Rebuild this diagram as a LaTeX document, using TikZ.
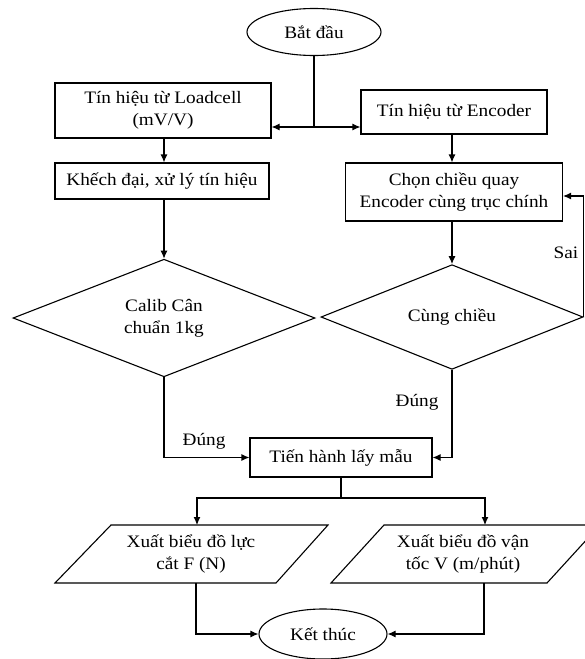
\documentclass[tikz,border=0pt]{standalone}
\usepackage{fontspec}
\setmainfont{Liberation Serif}[FakeStretch=1.1]
\usetikzlibrary{shapes.geometric,arrows.meta}
\begin{document}
\begin{tikzpicture}[x=1pt,y=-1pt,
  every node/.style={font=\fontsize{17.5}{22}\selectfont, align=center, inner sep=0pt},
  box/.style={draw, line width=1.1pt},
  term/.style={draw, ellipse, line width=1.1pt},
  dec/.style={draw, diamond, line width=1.1pt},
  conn/.style={line width=1.1pt},
  arr/.style={conn, -{Latex[length=8pt,width=7pt]}},
  lbl/.style={}
]
\useasboundingbox (0,0) rectangle (584,659);
% nodes
\node[term, minimum width=134pt, minimum height=47pt] (start) at (314,32) {Bắt đầu};
\node[box, minimum width=216pt, minimum height=55pt] (load) at (163,110.5) {Tín hiệu từ Loadcell\\(mV/V)};
\node[box, minimum width=186pt, minimum height=44pt] (enc) at (454,112) {Tín hiệu từ Encoder};
\node[box, minimum width=214pt, minimum height=36pt] (khech) at (162,181) {Khếch đại, xử lý tín hiệu};
\node[box, minimum width=217pt, minimum height=58pt] (chon) at (454,192) {Chọn chiều quay\\Encoder cùng trục chính};
\node[dec, minimum width=302pt, minimum height=105pt] (calib) at (164,318) {Calib Cân\\chuẩn 1kg};
\node[dec, minimum width=262pt, minimum height=87pt] (same) at (452,317) {Cùng chiều};
\node[box, minimum width=182pt, minimum height=39pt] (tien) at (341,457.5) {Tiến hành lấy mẫu};
\node (outF) at (191,554) {Xuất biểu đồ lực\\cắt F (N)};
\node (outV) at (463,554) {Xuất biểu đồ vận\\tốc V (m/phút)};
\draw[line width=1.1pt] (55,583) -- (111,525) -- (328,525) -- (276,583) -- cycle;
\draw[line width=1.1pt] (331,583) -- (384,525) -- (600,525) -- (547,583) -- cycle;
\node[term, minimum width=128pt, minimum height=50pt] (end) at (323,634) {Kết thúc};
% coordinates
\coordinate (fork) at (314,127);
\coordinate (split) at (341,498);
\coordinate (outFtop) at (197,525);
\coordinate (outVtop) at (485,525);
\coordinate (outFbot) at (196,583);
\coordinate (outVbot) at (484,583);
% connectors
\draw[conn] (start) -- (fork);
\draw[arr] (fork) -- (fork -| load.east);
\draw[arr] (fork) -- (fork -| enc.west);
\draw[arr] (calib.north |- load.south) -- (calib.north |- khech.north);
\draw[arr] (same.north |- enc.south) -- (same.north |- chon.north);
\draw[arr] (calib.north |- khech.south) -- (calib.north);
\draw[arr] (same.north |- chon.south) -- (same.north);
\draw[arr] (same.east) |- ([yshift=-4pt]chon.east);
\draw[arr] (calib.south) |- (tien.west);
\draw[arr] (same.south) |- (tien.east);
\draw[conn] (tien.south) -- (split);
\draw[arr] (split) -| (outFtop);
\draw[arr] (split) -| (outVtop);
\draw[arr] (outFbot) |- (end.west);
\draw[arr] (outVbot) |- (end.east);
% labels
\node[lbl] (sai) at (566,253) {Sai};
\node[lbl] (dungR) at (417,402) {Đúng};
\node[lbl] (dungL) at (204,441) {Đúng};
\end{tikzpicture}
\end{document}
